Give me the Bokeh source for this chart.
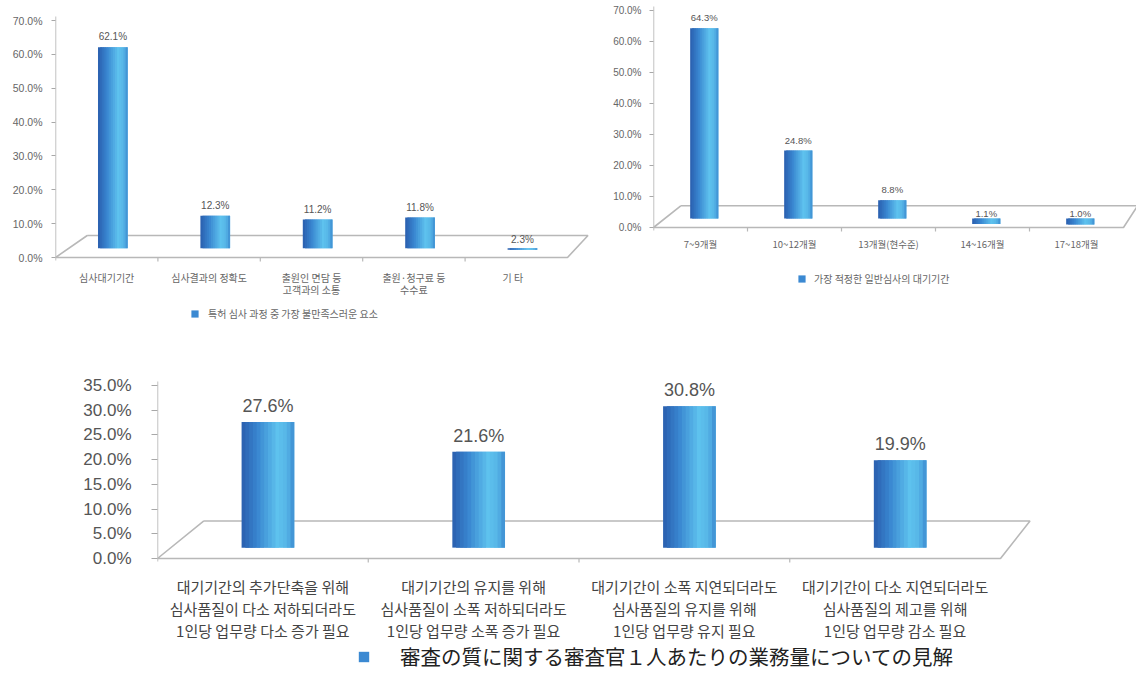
from bokeh.plotting import figure
from bokeh.models import (FixedTicker, PrintfTickFormatter, Legend, LegendItem,
                          Range1d, Spacer)
from bokeh.layouts import row, column
from bokeh.core.properties import value
from bokeh.embed import file_html
from bokeh.resources import INLINE

# ---------------- data ----------------
cats_top_left = ["심사대기기간", "심사결과의 정확도", "출원인 면담 등\n고객과의 소통",
                 "출원·청구료 등\n수수료", "기    타"]
vals_top_left = [62.1, 12.3, 11.2, 11.8, 2.3]
legend_top_left = "특허 심사 과정 중 가장 불만족스러운 요소"

cats_top_right = ["7~9개월", "10~12개월", "13개월(현수준)", "14~16개월", "17~18개월"]
vals_top_right = [64.3, 24.8, 8.8, 1.1, 1.0]
legend_top_right = "가장 적정한 일반심사의 대기기간"

cats_bottom = [
    "대기기간의 추가단축을 위해\n심사품질이 다소 저하되더라도\n1인당 업무량 다소 증가 필요",
    "대기기간의 유지를 위해\n심사품질이 소폭 저하되더라도\n1인당 업무량 소폭 증가 필요",
    "대기기간이 소폭 지연되더라도\n심사품질의 유지를 위해\n1인당 업무량 유지 필요",
    "대기기간이 다소 지연되더라도\n심사품질의 제고를 위해\n1인당 업무량 감소 필요",
]
vals_bottom = [27.6, 21.6, 30.8, 19.9]
legend_bottom = "審査の質に関する審査官１人あたりの業務量についての見解"

yticks_top = [0, 10, 20, 30, 40, 50, 60, 70]
yticks_bottom = [0, 5, 10, 15, 20, 25, 30, 35]

KR = "Noto Sans CJK KR"
JP = "Noto Sans CJK JP"
NUM = "Liberation Sans"

STOPS = [(0.0, (0x2a, 0x5e, 0xae)), (0.3, (0x39, 0x86, 0xd0)),
         (0.68, (0x5e, 0xc2, 0xee)), (0.86, (0x56, 0xb5, 0xe7)),
         (1.0, (0x3c, 0x8c, 0xd0))]


def grad(t):
    for (t0, c0), (t1, c1) in zip(STOPS[:-1], STOPS[1:]):
        if t0 <= t <= t1:
            f = (t - t0) / (t1 - t0)
            c = [round(a + (b - a) * f) for a, b in zip(c0, c1)]
            return "#%02x%02x%02x" % tuple(c)
    return "#%02x%02x%02x" % STOPS[-1][1]


def make_chart(cats, vals, yticks, legend_text, s):
    n = len(cats)
    ymax = yticks[-1]
    W, H = s["W"], s["H"]
    ppu = (s["y0"] - s["ytop"]) / ymax          # pixels per percent
    yhi = ymax + s["ytop"] / ppu
    ylo = -(H - s["y0"]) / ppu
    frame_w = W - s["left"]
    xhi = -0.5 + frame_w / s["cat_px"]
    p = figure(width=W, height=H, x_range=Range1d(-0.5, xhi),
               y_range=Range1d(ylo, yhi), output_backend="svg",
               toolbar_location=None,
               min_border_left=s["left"], min_border_right=0,
               min_border_top=0, min_border_bottom=0)
    p.xgrid.visible = False
    p.ygrid.visible = False
    p.outline_line_color = None
    p.xaxis.visible = False

    # y axis line (from floor to just above top tick)
    p.segment(x0=[-0.5], y0=[-3 / ppu], x1=[-0.5], y1=[ymax + 4 / ppu],
              line_color="#a8a8a8", line_width=1.4)

    # 3D floor
    d = s["depth"]
    fx = [-0.5 + s["dxl"], -0.5, n - 0.5, n - 0.5 + s["dxr"], -0.5 + s["dxl"]]
    fy = [d, 0, 0, d, d]
    p.line(fx, fy, line_color="#b8b8b8", line_width=1.6)
    bx = [i + 0.5 for i in range(n - 1)]
    p.segment(x0=bx, y0=[0] * len(bx), x1=bx, y1=[-4 / ppu] * len(bx),
              line_color="#b8b8b8", line_width=1.2)

    # cylinder-like bars made of overlapping gradient slices
    N = 14
    bw = s["bw"]
    step = bw / N
    legend_r = None
    for k in range(N):
        t = (k + 0.5) / N
        x0 = -bw / 2 + k * step
        x1 = min(bw / 2, x0 + step * 2.0)
        xs = [i + s["shift"] + (x0 + x1) / 2 for i in range(n)]
        r = p.vbar(x=xs, width=x1 - x0, bottom=s["base"], top=vals,
                   fill_color=grad(t), line_color=None)
        if k == N // 3:
            legend_r = r

    # value labels
    p.text(x=[i + s["shift"] for i in range(n)], y=vals,
           text=[f"{v:.1f}%" for v in vals], text_align="center",
           text_baseline="bottom", y_offset=-s["vgap"],
           text_font=value(NUM), text_font_size=s["vfs"],
           text_color=s["vcolor"])

    # category labels
    ycat = -(s["cat_top"] - s["y0"]) / ppu
    p.text(x=list(range(n)), y=[ycat] * n, text=cats, text_align="center",
           text_baseline="top", text_font=value(KR), text_font_size=s["xfs"],
           text_color=s["xcolor"], text_line_height=s["xlh"])

    ya = p.yaxis[0]
    ya.ticker = FixedTicker(ticks=yticks)
    ya.formatter = PrintfTickFormatter(format="%.1f%%")
    ya.axis_line_color = None
    ya.major_tick_line_color = "#a8a8a8"
    ya.major_tick_in = 0
    ya.major_tick_out = s["tick_out"]
    ya.minor_tick_line_color = None
    ya.major_label_text_font = NUM
    ya.major_label_text_font_size = s["yfs"]
    ya.major_label_text_color = s["ycolor"]
    ya.major_label_standoff = s["ystand"]

    leg = Legend(items=[LegendItem(label=legend_text, renderers=[legend_r])],
                 location=(s["legx"], s["legy"]), orientation="horizontal",
                 label_text_font=s["lfont"], label_text_font_size=s["lfs"],
                 label_text_color=s["lcolor"], glyph_width=s["gw"],
                 glyph_height=s["gw"], label_standoff=s["lstand"],
                 padding=0, margin=0, border_line_color=None,
                 background_fill_alpha=0)
    p.add_layout(leg)
    return p


s1 = dict(W=600, H=340, left=55, cat_px=102.4, ytop=20, y0=257,
          dxl=0.31, dxr=0.2, depth=6.5, base=2.7, bw=0.29, shift=0.06,
          vgap=5, vfs="10px", vcolor="#555555", tick_out=4, yfs="10.5px",
          ycolor="#666666", ystand=9, cat_top=269, xfs="10px",
          xcolor="#666666", xlh=0.85, legx=135, legy=19, lfont=KR, lfs="10px",
          lcolor="#666666", gw=9, lstand=9)
s2 = dict(W=536, H=340, left=53, cat_px=94, ytop=10, y0=227,
          dxl=0.29, dxr=0.15, depth=7.0, base=2.9, bw=0.30, shift=0.04,
          vgap=5, vfs="9.5px", vcolor="#555555", tick_out=4, yfs="10px",
          ycolor="#666666", ystand=8, cat_top=236, xfs="9.5px",
          xcolor="#666666", xlh=0.85, legx=144, legy=54, lfont=KR, lfs="10px",
          lcolor="#666666", gw=9, lstand=8)
s3 = dict(W=1076, H=337, left=97, cat_px=210.75, ytop=45, y0=218,
          dxl=0.22, dxr=0.14, depth=7.6, base=2.2, bw=0.25, shift=0.024,
          vgap=6, vfs="18px", vcolor="#555555", tick_out=6, yfs="17px",
          ycolor="#555555", ystand=20, cat_top=235, xfs="15px",
          xcolor="#444444", xlh=1.05, legx=200, legy=6, lfont=JP, lfs="20.5px",
          lcolor="#222222", gw=13, lstand=30)

p1 = make_chart(cats_top_left, vals_top_left, yticks_top, legend_top_left, s1)
p2 = make_chart(cats_top_right, vals_top_right, yticks_top, legend_top_right, s2)
p3 = make_chart(cats_bottom, vals_bottom, yticks_bottom, legend_bottom, s3)

layout = column(row(p1, p2), row(Spacer(width=60, height=337), p3))
open("out.html", "w").write(file_html(layout, INLINE, "chart"))
